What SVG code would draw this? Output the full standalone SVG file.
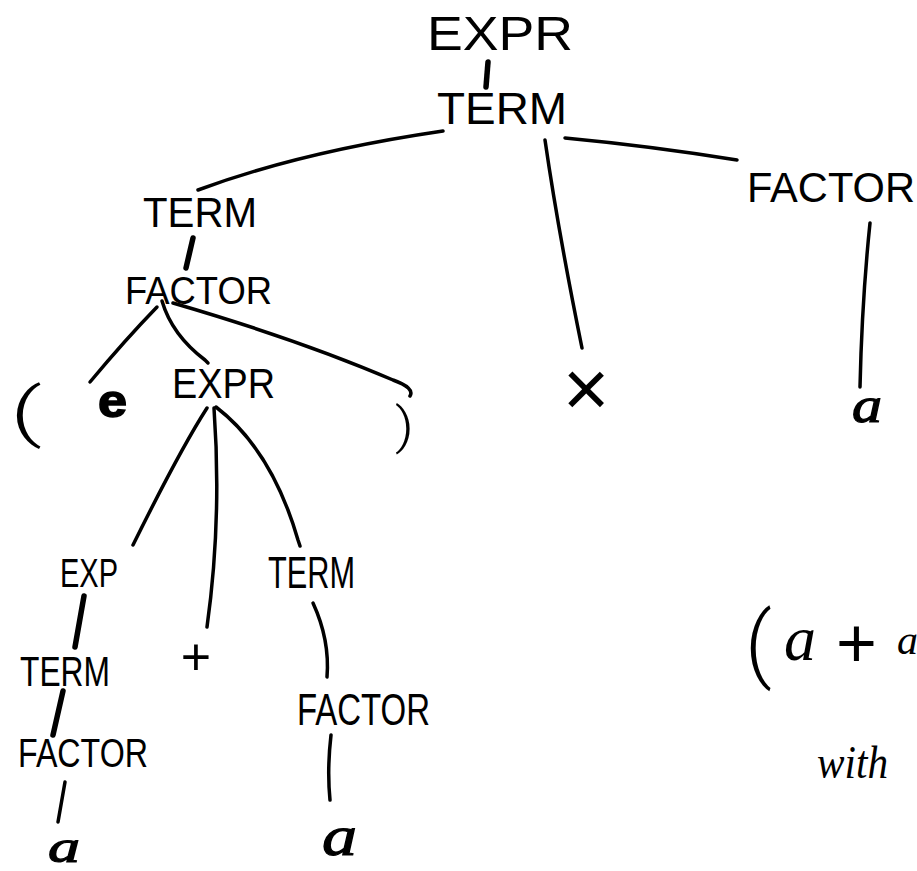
<svg xmlns="http://www.w3.org/2000/svg" width="917" height="871" viewBox="0 0 917 871">
  <style>
    .lbl { font-family: "Liberation Sans", Arial, sans-serif; fill: #000; }
    .thin { font-family: Roboto, "Noto Sans", "Liberation Sans", sans-serif; font-weight: 300; }
    .hand { font-family: "Liberation Serif", "Times New Roman", serif; font-style: italic; fill: #000; }
    .ink { stroke: #000; stroke-width: 1.2; }
    .edge { fill: none; stroke: #000; stroke-width: 3.5; stroke-linecap: round; stroke-linejoin: round; }
    .thick { stroke-width: 5.5; }
  </style>
  <rect width="917" height="871" fill="#fff"/>

  <!-- parse-tree edges -->
  <g id="connectors">
    <path class="edge thick" d="M488,62 L486,87"/>
    <path class="edge" d="M198,190 Q300,152 443,131"/>
    <path class="edge" d="M545,140 Q558,230 582,348"/>
    <path class="edge" d="M565,138 Q650,146 737,160"/>
    <path class="edge" d="M870,223 Q862,300 860,387"/>
    <path class="edge thick" d="M193,238 L186,268"/>
    <path class="edge" d="M157,307 Q125,340 90,382"/>
    <path class="edge" d="M162,301 Q172,335 205,360 L208,363"/>
    <path class="edge" d="M173,303 Q300,340 393,380 Q415,388 410,396"/>
    <path class="edge" d="M207,408 Q180,450 133,545"/>
    <path class="edge" d="M214,408 Q222,520 207,627"/>
    <path class="edge" d="M216,407 Q272,450 298,540 L300,546"/>
    <path class="edge thick" d="M84,596 L75,647"/>
    <path class="edge thick" d="M63,691 L53,735"/>
    <path class="edge" d="M65,782 L58,822"/>
    <path class="edge" d="M313,603 Q330,640 327,677"/>
    <path class="edge" d="M331,735 Q327,770 330,800"/>
  </g>

  <!-- top of the tree -->
  <g id="expr-root"><text class="lbl" x="427" y="50" font-size="48" textLength="146" lengthAdjust="spacingAndGlyphs">EXPR</text></g>
  <g id="term-root"><text class="lbl" x="437" y="124" font-size="44" textLength="130" lengthAdjust="spacingAndGlyphs">TERM</text></g>

  <!-- TERM × FACTOR -->
  <g id="term-left"><text class="lbl" x="143" y="227" font-size="42" textLength="114" lengthAdjust="spacingAndGlyphs">TERM</text></g>
  <g id="times"><text class="lbl" x="586" y="416" font-size="80" text-anchor="middle">×</text></g>
  <g id="factor-right"><text class="lbl" x="747" y="202" font-size="42" textLength="168" lengthAdjust="spacingAndGlyphs">FACTOR</text></g>
  <g id="a-right"><text class="hand ink" x="852" y="422" font-size="50" textLength="30" lengthAdjust="spacingAndGlyphs">a</text></g>

  <!-- ( EXPR ) -->
  <g id="factor-paren"><text class="lbl" x="125" y="304" font-size="39" textLength="147" lengthAdjust="spacingAndGlyphs">FACTOR</text></g>
  <g id="lparen"><text class="lbl thin" x="10" y="434" font-size="64" textLength="32" lengthAdjust="spacingAndGlyphs">(</text></g>
  <g id="scribble"><text class="lbl" x="98" y="417" font-size="46" font-weight="bold" stroke="#000" stroke-width="1.5" textLength="29" lengthAdjust="spacingAndGlyphs">e</text></g>
  <g id="expr-inner"><text class="lbl" x="172" y="398" font-size="43" textLength="103" lengthAdjust="spacingAndGlyphs">EXPR</text></g>
  <g id="rparen"><text class="lbl thin" x="395" y="443" font-size="50" textLength="19" lengthAdjust="spacingAndGlyphs">)</text></g>

  <!-- EXPR + TERM -->
  <g id="exp"><text class="lbl" x="60" y="587" font-size="40" textLength="58" lengthAdjust="spacingAndGlyphs">EXP</text></g>
  <g id="plus"><text class="lbl" x="196" y="675" font-size="52" text-anchor="middle">+</text></g>
  <g id="term-plus"><text class="lbl" x="268" y="588" font-size="44" textLength="87" lengthAdjust="spacingAndGlyphs">TERM</text></g>

  <g id="term-low-left"><text class="lbl" x="20" y="686" font-size="42" textLength="90" lengthAdjust="spacingAndGlyphs">TERM</text></g>
  <g id="factor-low-left"><text class="lbl" x="18" y="767" font-size="41" textLength="130" lengthAdjust="spacingAndGlyphs">FACTOR</text></g>
  <g id="a-low-left"><text class="hand ink" x="48" y="862" font-size="46" textLength="32" lengthAdjust="spacingAndGlyphs">a</text></g>

  <g id="factor-low-right"><text class="lbl" x="297" y="725" font-size="44" textLength="133" lengthAdjust="spacingAndGlyphs">FACTOR</text></g>
  <g id="a-low-right"><text class="hand ink" x="322" y="855" font-size="58" textLength="35" lengthAdjust="spacingAndGlyphs">a</text></g>

  <!-- expression note -->
  <g id="expression">
    <text class="lbl" font-size="54">
      <tspan class="thin" x="745" y="672" font-size="84">(</tspan>
      <tspan class="hand" x="784" y="660" font-size="64">a</tspan>
      <tspan x="836" y="667" font-size="70">+</tspan>
      <tspan class="hand" x="897" y="654" font-size="42">a</tspan>
    </text>
  </g>
  <g id="with"><text class="hand" x="817" y="778" font-size="46" textLength="71" lengthAdjust="spacingAndGlyphs">with</text></g>
</svg>
